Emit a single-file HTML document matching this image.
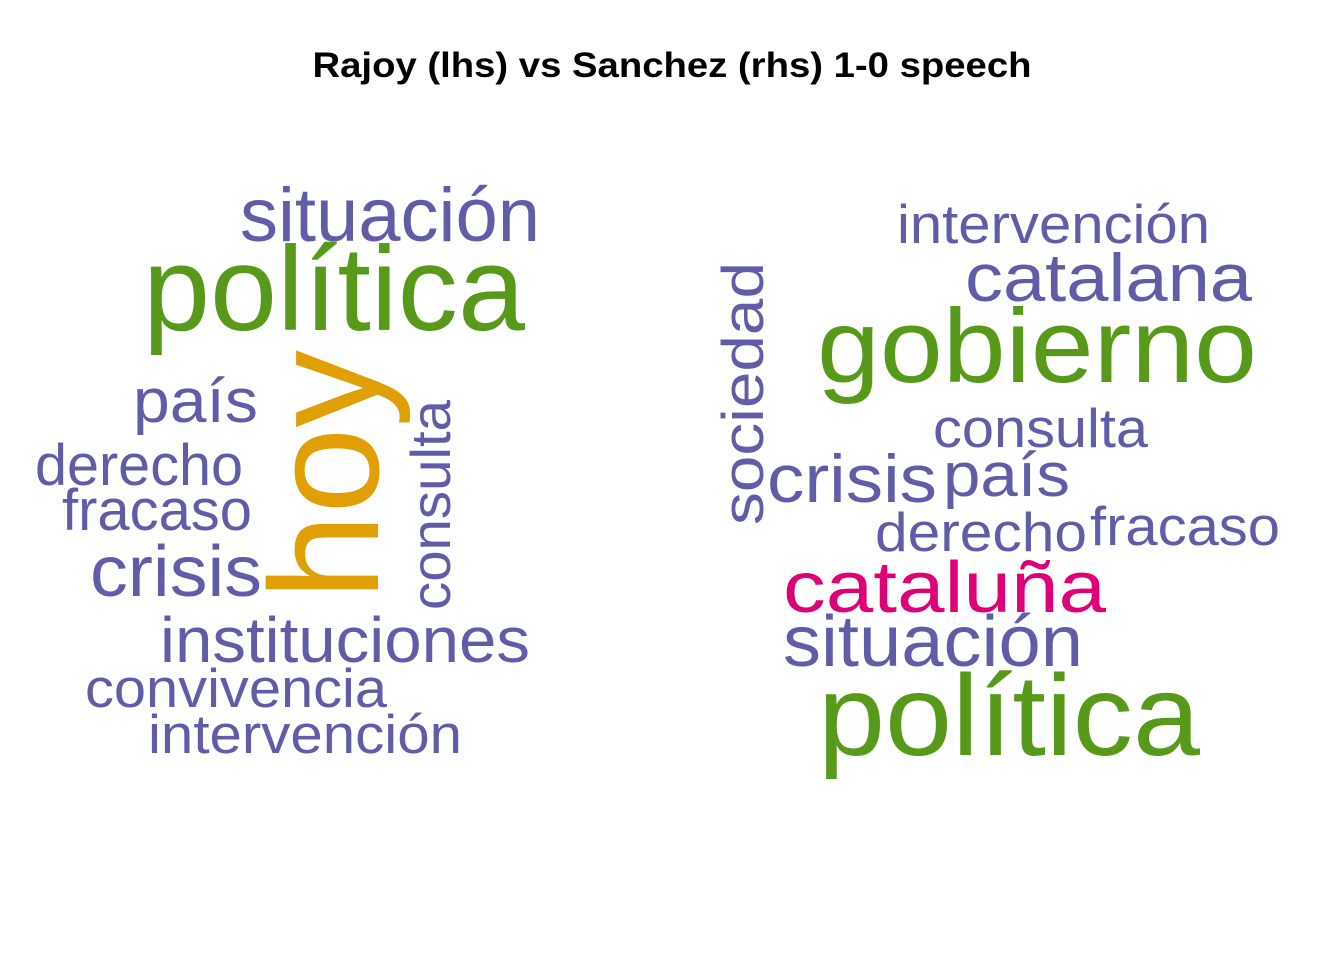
<!DOCTYPE html>
<html><head><meta charset="utf-8"><style>
html,body{margin:0;padding:0;background:#fff;}
svg{display:block;font-family:"Liberation Sans",Arial,sans-serif;}
</style></head><body>
<svg id="chart" width="1344" height="960" viewBox="0 0 1344 960">
<text x="672" y="77" text-anchor="middle" font-weight="bold" font-size="35" textLength="719" lengthAdjust="spacingAndGlyphs" fill="#000">Rajoy (lhs) vs Sanchez (rhs) 1-0 speech</text>
<g id="left"></g>
<g id="right"></g>
</svg>
<script>
const P="#605CA8",G="#579A1A",O="#E09F04",M="#DE0077";
const leftWords=["situación","política","hoy","país","derecho","fracaso","crisis","consulta","instituciones","convivencia","intervención"];
const leftSizes=[76,120,155,62,58,58,72,56,64,55,55];
const leftColors=[P,G,O,P,P,P,P,P,P,P,P];
// layout: x, baseline y, width, rotated
const leftLayout=[[240,241,300,0],[143,330,382,0],[378,600,250,1],[133,422,125,0],[35,485,208,0],[62,530,190,0],[90,596,172,0],[450,610,210,1],[160,662,370,0],[85,707,302,0],[148,753,314,0]];
const rightWords=["intervención","catalana","gobierno","sociedad","consulta","crisis","país","derecho","fracaso","cataluña","situación","política"];
const rightSizes=[55,68,105,58,55,68,62,55,55,72,72,115];
const rightColors=[P,P,G,P,P,P,P,P,P,M,P,G];
const rightLayout=[[897,243,313,0],[965,301,287,0],[817,382,440,0],[763,525,263,1],[933,447,215,0],[767,502,170,0],[943,496,127,0],[875,551,212,0],[1090,545,190,0],[783,612,323,0],[783,666,300,0],[818,755,382,0]];
function draw(gid,words,sizes,colors,layout){
  const g=document.getElementById(gid);
  words.forEach((w,i)=>{
    const [x,y,len,rot]=layout[i];
    const t=document.createElementNS("http://www.w3.org/2000/svg","text");
    
    
    t.setAttribute("font-size",sizes[i]);
    t.setAttribute("fill",colors[i]);
    t.setAttribute("textLength",len);
    t.setAttribute("lengthAdjust","spacingAndGlyphs");
    if(rot){t.setAttribute("x",0);t.setAttribute("y",0);t.setAttribute("transform","translate("+x+","+y+") rotate(-90)");}
    else{t.setAttribute("x",x);t.setAttribute("y",y);}
    t.textContent=w;
    g.appendChild(t);
  });
}
draw("left",leftWords,leftSizes,leftColors,leftLayout);
draw("right",rightWords,rightSizes,rightColors,rightLayout);
</script>
</body></html>
